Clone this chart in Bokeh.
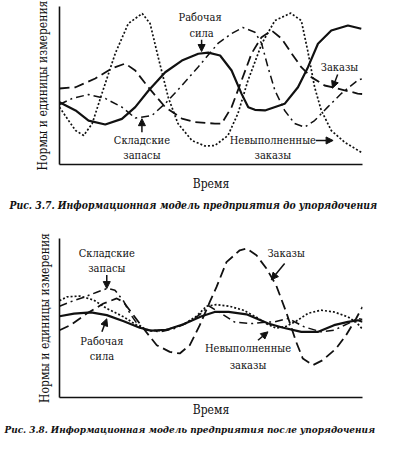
from bokeh.plotting import figure
from bokeh.layouts import column
from bokeh.models import Range1d, Label, Arrow, NormalHead, Title, FixedTicker
from bokeh.embed import file_html
from bokeh.resources import INLINE

# ---------------- Рис. 3.7 (до упорядочения) ----------------
t1_work = [0, 5.3, 9.6, 15.1, 20.6, 25.0, 29.4, 34.9, 40.4, 45.8, 49.1, 53.0, 56.8, 60.1, 62.3, 64.5, 67.8, 74.3, 78.7, 82.0, 85.3, 89.7, 95.2, 99.6]
v1_work = [39.4, 34.2, 27.8, 25.3, 28.9, 36.3, 46.8, 58.4, 65.8, 70.1, 70.8, 69.0, 59.5, 44.7, 36.3, 34.6, 34.2, 38.4, 48.9, 61.6, 76.4, 84.8, 88.0, 85.9]

t1_backlog = [0, 3.0, 5.3, 8.0, 10.8, 14.0, 18.4, 22.7, 27.3, 29.9, 32.6, 35.9, 39.1, 43.7, 48.0, 51.3, 55.6, 58.9, 62.2, 66.8, 71.1, 76.3, 79.8, 81.9, 84.2, 86.4, 89.7, 94.1, 99.7]
v1_backlog = [36.3, 27.8, 21.5, 18.4, 25.9, 44.9, 70.3, 89.2, 95.6, 89.2, 67.7, 42.4, 25.9, 15.2, 11.7, 12.0, 18.4, 32.3, 53.2, 76.6, 91.1, 95.8, 91.1, 72.2, 48.9, 34.2, 21.5, 14.1, 7.6]

t1_orders = [0, 5.3, 11.8, 17.3, 21.7, 25.0, 29.3, 34.9, 40.4, 44.7, 51.3, 53.5, 56.8, 60.1, 63.4, 66.7, 70.0, 73.3, 76.6, 79.8, 83.1, 87.5, 91.8, 98.4, 100]
v1_orders = [48.1, 48.9, 54.4, 60.8, 63.9, 59.5, 48.9, 36.3, 29.1, 26.8, 25.9, 25.9, 36.3, 53.2, 70.3, 80.6, 84.8, 79.7, 70.3, 61.6, 55.3, 50.0, 48.1, 44.9, 44.6]

t1_stock = [0, 4.2, 9.5, 15.1, 20.6, 25.0, 30.5, 34.9, 40.4, 45.7, 52.3, 56.8, 60.5, 64.5, 66.7, 68.8, 71.1, 74.3, 77.6, 80.9, 84.2, 88.5, 93.0, 98.4, 100]
v1_stock = [38.0, 41.8, 44.3, 41.8, 36.3, 29.4, 31.0, 38.6, 50.0, 61.6, 76.6, 82.9, 86.7, 83.7, 76.6, 61.6, 46.8, 34.2, 25.9, 23.6, 27.8, 36.3, 44.9, 53.2, 54.4]

# ---------------- Рис. 3.8 (после упорядочения) ----------------
t2_work = [0, 4.8, 10.4, 15.6, 21.2, 26.5, 30.4, 35.4, 40.9, 46.9, 51.2, 55.8, 61.7, 68.9, 73.2, 79.8, 85.4, 90.6, 95.2, 98.5, 100]
v2_work = [51.1, 52.7, 53.5, 51.8, 48.0, 43.9, 42.0, 42.6, 46.1, 51.1, 53.8, 53.8, 52.3, 46.5, 44.2, 41.3, 41.3, 45.5, 47.6, 48.6, 47.6]

t2_backlog = [0, 2.5, 6.7, 11.3, 15.6, 21.2, 25.5, 29.8, 33.7, 37.2, 41.0, 45.2, 48.5, 51.8, 56.1, 60.7, 65.0, 68.6, 71.5, 74.8, 78.1, 82.1, 86.3, 90.6, 95.2, 97.9, 100]
v2_backlog = [60.9, 63.3, 63.8, 61.3, 56.0, 50.7, 45.5, 42.0, 42.0, 43.6, 46.1, 51.1, 57.4, 58.4, 57.4, 54.9, 50.5, 46.1, 43.6, 44.8, 48.0, 53.0, 54.9, 53.8, 50.7, 47.4, 43.0]

t2_stock = [0, 3.5, 8.1, 12.3, 15.9, 18.3, 21.2, 23.2, 25.5, 28.8, 33.1, 37.7, 42.9, 46.9, 49.2, 52.8, 57.7, 63.3, 68.6, 70.9, 75.5, 80.8, 86.3, 90.6, 95.2, 98.5, 100]
v2_stock = [57.4, 60.1, 63.1, 66.2, 68.7, 67.5, 60.5, 53.0, 46.7, 42.3, 41.3, 43.2, 47.5, 53.0, 57.7, 53.6, 47.5, 46.5, 47.5, 47.5, 49.7, 44.4, 41.3, 42.3, 46.5, 49.7, 49.1]

t2_orders = [0, 3.6, 9.0, 14.5, 18.9, 21.1, 24.4, 27.7, 32.1, 36.4, 39.7, 43.0, 46.3, 49.6, 51.8, 55.1, 59.5, 61.7, 65.0, 68.3, 71.5, 74.8, 78.1, 80.3, 83.6, 86.9, 91.3, 94.6, 97.9, 100]
v2_orders = [42.3, 45.5, 52.8, 59.1, 62.3, 60.1, 51.8, 43.4, 32.9, 28.7, 27.7, 32.9, 45.5, 60.1, 69.4, 85.1, 92.6, 93.7, 89.5, 81.1, 70.6, 53.8, 35.0, 24.5, 20.3, 23.5, 30.8, 39.2, 49.7, 57.0]

INK = "#111111"
FONT = "DejaVu Serif Condensed"
LABEL_SIZE = "11px"


def make_fig(height, b_left, b_right, b_top, b_bottom, xlab_standoff, ylab_standoff,
             caption, cap_offset, cap_standoff, cap_size):
    p = figure(width=380, height=height, output_backend="svg", toolbar_location=None,
               x_range=Range1d(0, 100), y_range=Range1d(0, 100),
               min_border_left=b_left, min_border_right=b_right,
               min_border_top=b_top, min_border_bottom=b_bottom)
    p.xgrid.visible = False
    p.ygrid.visible = False
    p.outline_line_color = None
    for ax in (p.xaxis[0], p.yaxis[0]):
        ax.ticker = FixedTicker(ticks=[])
        ax.major_tick_line_color = None
        ax.minor_tick_line_color = None
        ax.major_tick_out = 0
        ax.major_tick_in = 0
        ax.major_label_standoff = 0
        ax.major_label_text_font_size = "0px"
        ax.axis_line_color = INK
        ax.axis_line_width = 1.6
        ax.axis_label_text_font = FONT
        ax.axis_label_text_font_size = "12px"
        ax.axis_label_text_font_style = "normal"
        ax.axis_label_text_color = INK
    p.xaxis.axis_label = "Время"
    p.yaxis.axis_label = "Нормы и единицы измерения"
    p.xaxis.axis_label_standoff = xlab_standoff
    p.yaxis.axis_label_standoff = ylab_standoff
    t = Title(text=caption, align="left", offset=cap_offset, text_font=FONT,
              text_font_size=cap_size, text_font_style="bold italic", text_color=INK,
              standoff=cap_standoff)
    p.add_layout(t, "below")
    return p


def draw_series(p, work, backlog, orders, stock):
    p.line(work[0], work[1], line_color=INK, line_width=2.2)
    p.line(backlog[0], backlog[1], line_color=INK, line_width=1.7, line_dash="2 2")
    p.line(orders[0], orders[1], line_color=INK, line_width=1.8, line_dash="10 5")
    p.line(stock[0], stock[1], line_color=INK, line_width=1.5, line_dash="8 4 2 4")


def label(p, x, y, text):
    p.add_layout(Label(x=x, y=y, text=text, text_align="center", text_baseline="middle",
                       text_font=FONT, text_font_size=LABEL_SIZE, text_color=INK))


def arrow(p, x0, y0, x1, y1):
    p.add_layout(Arrow(end=NormalHead(size=7, fill_color=INK, line_color=INK, line_width=1),
                       x_start=x0, y_start=y0, x_end=x1, y_end=y1,
                       line_color=INK, line_width=1.5))


# Figure 1
p1 = make_fig(215, 59, 17, 6, 51, 12, 10,
              "Рис. 3.7. Информационная модель предприятия до упорядочения", -50, 7, "10.3px")
draw_series(p1, (t1_work, v1_work), (t1_backlog, v1_backlog), (t1_orders, v1_orders), (t1_stock, v1_stock))
label(p1, 46.4, 93.0, "Рабочая")
label(p1, 46.9, 83.0, "сила")
arrow(p1, 46.9, 79.0, 46.9, 71.5)
label(p1, 27.2, 15.2, "Складские")
label(p1, 27.2, 5.7, "запасы")
arrow(p1, 27.2, 20.4, 27.2, 29.0)
label(p1, 70.4, 15.2, "Невыполненные")
label(p1, 70.4, 5.7, "заказы")
arrow(p1, 84.6, 15.2, 90.3, 15.2)
label(p1, 92.4, 61.6, "Заказы")
arrow(p1, 91.8, 57.0, 90.1, 48.3)

# Figure 2
p2 = make_fig(227, 57, 18, 23, 45, 5, 8,
              "Рис. 3.8. Информационная модель предприятия после упорядочения", -55, 5, "9.9px")
draw_series(p2, (t2_work, v2_work), (t2_backlog, v2_backlog), (t2_orders, v2_orders), (t2_stock, v2_stock))
label(p2, 15.6, 90.6, "Складские")
label(p2, 15.6, 81.1, "запасы")
arrow(p2, 15.6, 77.0, 15.6, 68.5)
label(p2, 74.8, 90.6, "Заказы")
arrow(p2, 74.3, 84.3, 69.9, 74.0)
label(p2, 14.0, 35.0, "Рабочая")
label(p2, 14.0, 25.5, "сила")
arrow(p2, 14.0, 41.3, 15.6, 49.5)
label(p2, 62.2, 30.8, "Невыполненные")
label(p2, 62.2, 20.3, "заказы")
arrow(p2, 65.5, 36.0, 68.8, 41.3)

layout = column(p1, p2, spacing=0)
open("out.html", "w").write(file_html(layout, INLINE))
